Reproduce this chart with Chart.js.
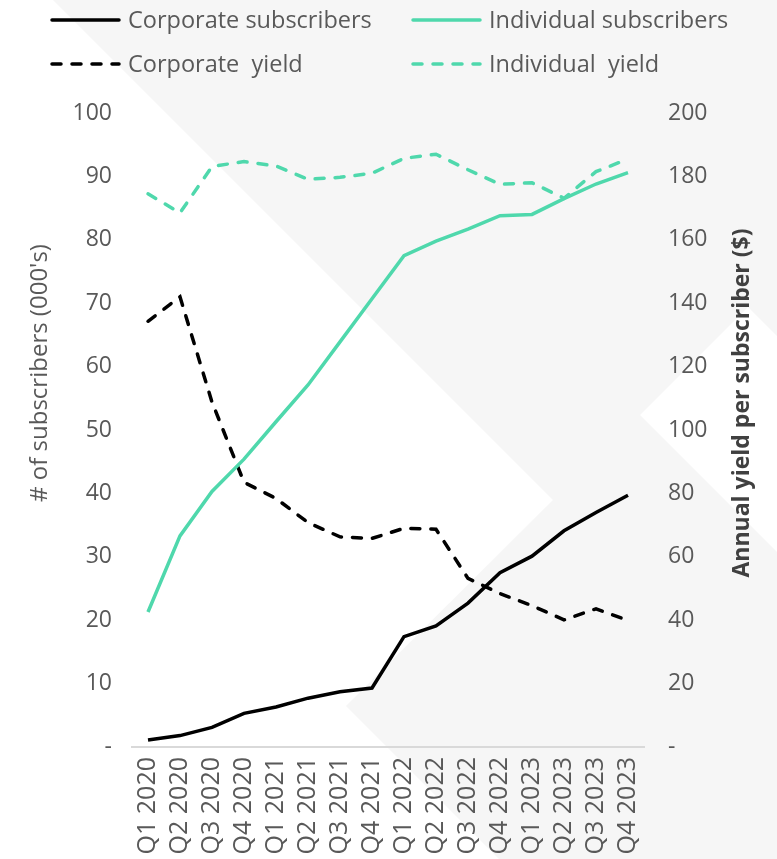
<!DOCTYPE html>
<html>
<head>
<meta charset="utf-8">
<script src="https://cdn.jsdelivr.net/npm/chart.js@4.4.1/dist/chart.umd.min.js"></script>
<style>
  html, body { margin: 0; padding: 0; background: #ffffff; }
  #wrap { width: 777px; height: 859px; }
</style>
</head>
<body>
<div id="wrap"><canvas id="subsChart" width="777" height="859"></canvas></div>
<script>
// quarters on the x axis
var quarters = ['Q1 2020', 'Q2 2020', 'Q3 2020', 'Q4 2020',
                'Q1 2021', 'Q2 2021', 'Q3 2021', 'Q4 2021',
                'Q1 2022', 'Q2 2022', 'Q3 2022', 'Q4 2022',
                'Q1 2023', 'Q2 2023', 'Q3 2023', 'Q4 2023'];

// subscribers (000's) - left axis
var corporateSubscribers  = [1.1, 1.8, 3.1, 5.3, 6.3, 7.7, 8.7, 9.3, 17.4, 19.1, 22.7, 27.5, 30.1, 34.1, 37.0, 39.7];
var individualSubscribers = [21.3, 33.3, 40.3, 45.4, 51.3, 57.1, 63.9, 70.7, 77.5, 79.8, 81.7, 83.8, 84.0, 86.5, 88.8, 90.6];

// annual yield per subscriber ($) - right axis
var corporateYield  = [134.3, 142.0, 108.8, 83.5, 78.4, 70.8, 66.3, 65.8, 69.0, 68.7, 53.2, 48.4, 44.6, 40.1, 43.6, 39.9];
var individualYield = [174.5, 168.5, 183.1, 184.7, 183.3, 179.1, 179.7, 181.0, 185.7, 187.0, 182.1, 177.5, 178.0, 173.1, 181.5, 185.5];

var leftTicksMax = 100;
var rightTicksMax = 200;
var leftTitle = "# of subscribers (000's)";
var rightTitle = 'Annual yield per subscriber ($)';

var FONT = '"Open Sans", Lato, sans-serif';
var GREY_TEXT = '#595959';
var TEAL = '#4fd8ac';
var DASH = [9, 11];

// light grey diagonal background
var backgroundPlugin = {
  id: 'bgShapes',
  beforeDraw: function(chart) {
    var ctx = chart.ctx;
    var w = chart.width, h = chart.height;
    ctx.save();
    ctx.fillStyle = '#ffffff';
    ctx.fillRect(0, 0, w, h);
    ctx.fillStyle = '#f6f6f6';
    ctx.beginPath();
    ctx.moveTo(53, 0);
    ctx.lineTo(w, 0);
    ctx.lineTo(w, 336);
    ctx.lineTo(748, 307);
    ctx.lineTo(640, 415);
    ctx.lineTo(w, 552);
    ctx.lineTo(w, h);
    ctx.lineTo(499, h);
    ctx.lineTo(346, 706);
    ctx.lineTo(553, 500);
    ctx.closePath();
    ctx.fill();
    ctx.restore();
  }
};

// legend in two aligned columns + rotated axis titles
var legendPlugin = {
  id: 'twoColLegend',
  afterDraw: function(chart) {
    var ctx = chart.ctx;
    var cols = [50, 411];
    var rows = [20, 64];
    ctx.save();
    chart.data.datasets.forEach(function(ds, i) {
      var x = cols[i % 2];
      var y = rows[Math.floor(i / 2)];
      ctx.beginPath();
      ctx.strokeStyle = ds.borderColor;
      ctx.lineWidth = ds.borderWidth;
      ctx.lineCap = 'round';
      ctx.setLineDash(ds.borderDash || []);
      ctx.moveTo(x + 2, y);
      ctx.lineTo(x + 69, y);
      ctx.stroke();
      ctx.setLineDash([]);
      ctx.fillStyle = GREY_TEXT;
      ctx.font = '23.5px ' + FONT;
      ctx.textBaseline = 'middle';
      ctx.textAlign = 'left';
      ctx.fillText(ds.label, x + 78, y + 1);
    });

    // axis titles
    ctx.textAlign = 'center';
    ctx.textBaseline = 'middle';
    ctx.save();
    ctx.translate(40, 373);
    ctx.rotate(-Math.PI / 2);
    ctx.fillStyle = GREY_TEXT;
    ctx.font = '24px ' + FONT;
    ctx.fillText(leftTitle, 0, 0);
    ctx.restore();

    ctx.save();
    ctx.translate(742, 403);
    ctx.rotate(-Math.PI / 2);
    ctx.fillStyle = '#404040';
    ctx.font = 'bold 23px ' + FONT;
    ctx.fillText(rightTitle, 0, 0);
    ctx.restore();
    ctx.restore();
  }
};

function dashZero(value) {
  return value === 0 ? '-' : value;
}

var ctx = document.getElementById('subsChart').getContext('2d');
var chart = new Chart(ctx, {
  type: 'line',
  data: {
    labels: quarters,
    datasets: [
      { label: 'Corporate subscribers', data: corporateSubscribers, yAxisID: 'y',
        borderColor: '#000000', borderWidth: 3.5, pointRadius: 0, tension: 0 },
      { label: 'Individual subscribers', data: individualSubscribers, yAxisID: 'y',
        borderColor: TEAL, borderWidth: 3.5, pointRadius: 0, tension: 0 },
      { label: 'Corporate  yield', data: corporateYield, yAxisID: 'y1',
        borderColor: '#000000', borderWidth: 3.5, borderDash: DASH, borderCapStyle: 'round',
        pointRadius: 0, tension: 0 },
      { label: 'Individual  yield', data: individualYield, yAxisID: 'y1',
        borderColor: TEAL, borderWidth: 3.5, borderDash: DASH, borderCapStyle: 'round',
        pointRadius: 0, tension: 0 }
    ]
  },
  options: {
    responsive: false,
    animation: false,
    devicePixelRatio: 1,
    layout: { padding: { left: 28, right: 23, top: 113, bottom: 0 } },
    plugins: {
      legend: { display: false },
      tooltip: { enabled: false }
    },
    scales: {
      x: {
        offset: true,
        grid: { display: false, drawTicks: false },
        border: { display: true, color: '#d9d9d9', width: 2 },
        ticks: { minRotation: 90, maxRotation: 90, autoSkip: false, padding: 10,
                 color: GREY_TEXT, font: { family: FONT, size: 25 } },
        afterFit: function(scale) { scale.height = 112; }
      },
      y: {
        position: 'left',
        min: 0, max: leftTicksMax,
        grid: { display: false, drawTicks: false },
        border: { display: false },
        ticks: { stepSize: 10, padding: 20, color: GREY_TEXT,
                 font: { family: FONT, size: 23 }, callback: dashZero },
        afterFit: function(scale) { scale.width = 104; }
      },
      y1: {
        position: 'right',
        min: 0, max: rightTicksMax,
        grid: { display: false, drawTicks: false },
        border: { display: false },
        ticks: { stepSize: 20, padding: 24, color: GREY_TEXT,
                 font: { family: FONT, size: 23 }, callback: dashZero },
        afterFit: function(scale) { scale.width = 110; }
      }
    }
  },
  plugins: [backgroundPlugin, legendPlugin]
});
</script>
</body>
</html>
